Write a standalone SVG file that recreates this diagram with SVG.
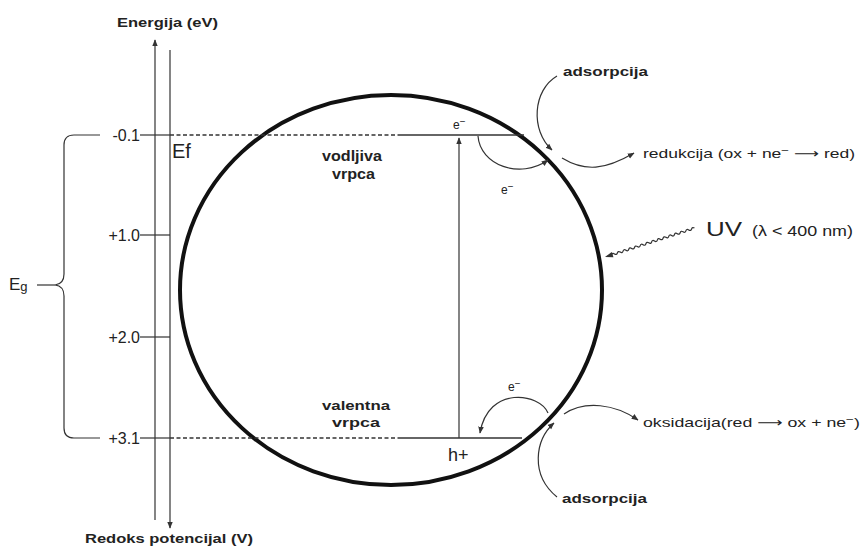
<svg xmlns="http://www.w3.org/2000/svg" width="861" height="547" viewBox="0 0 861 547">
<style>
text{font-family:"Liberation Sans",Arial,sans-serif;fill:#222}
.b{font-weight:bold}
.ln{stroke:#333;stroke-width:1.5;fill:none}
.th{stroke:#333;stroke-width:1.2;fill:none}
.dash{stroke:#333;stroke-width:1.3;stroke-dasharray:4 2.5;fill:none}
.ar{font-family:"DejaVu Sans",sans-serif}
</style>
<defs>
<marker id="ah" viewBox="0 0 10 10" refX="9" refY="5" markerWidth="7" markerHeight="7" orient="auto" markerUnits="userSpaceOnUse">
<path d="M0,1 L10,5 L0,9 Z" fill="#333"/>
</marker>
</defs>
<rect width="861" height="547" fill="#fff"/>

<g id="axes">
<line class="th" x1="155" y1="520" x2="155" y2="40" marker-end="url(#ah)"/>
<line class="th" x1="170" y1="50" x2="170" y2="528" marker-end="url(#ah)"/>
<text class="b" x="117" y="27" font-size="13" textLength="101" lengthAdjust="spacingAndGlyphs">Energija (eV)</text>
<text class="b" x="85" y="543" font-size="13" textLength="168" lengthAdjust="spacingAndGlyphs">Redoks potencijal (V)</text>
<line class="th" x1="140" y1="135" x2="170" y2="135"/>
<line class="th" x1="140" y1="235" x2="170" y2="235"/>
<line class="th" x1="140" y1="337" x2="170" y2="337"/>
<line class="th" x1="140" y1="438" x2="170" y2="438"/>
<text x="140" y="141" font-size="16" text-anchor="end">-0.1</text>
<text x="140" y="241" font-size="16" text-anchor="end">+1.0</text>
<text x="140" y="343" font-size="16" text-anchor="end">+2.0</text>
<text x="140" y="444" font-size="16" text-anchor="end">+3.1</text>
<text x="172" y="158" font-size="20">Ef</text>
</g>

<g id="eg-brace">
<path class="th" d="M100,135 H74 Q64,135 64,145 V274 Q64,284 55,285 Q64,286 64,296 V428 Q64,438 74,438 H100"/>
<line class="th" x1="37" y1="285" x2="55" y2="285"/>
<text x="9" y="290" font-size="17">E<tspan font-size="13" dy="1">g</tspan></text>
</g>

<g id="particle">
<ellipse cx="391" cy="290" rx="211" ry="195" fill="none" stroke="#111" stroke-width="4"/>
</g>

<g id="bands">
<line class="dash" x1="170" y1="135" x2="400" y2="135"/>
<line class="ln" x1="400" y1="135" x2="524" y2="135"/>
<line class="dash" x1="170" y1="438" x2="400" y2="438"/>
<line class="ln" x1="400" y1="438" x2="522" y2="438"/>
<text class="b" x="322" y="161" font-size="14" textLength="60" lengthAdjust="spacingAndGlyphs">vodljiva</text>
<text class="b" x="332" y="179" font-size="14" textLength="43" lengthAdjust="spacingAndGlyphs">vrpca</text>
<text class="b" x="322" y="410" font-size="13" textLength="68" lengthAdjust="spacingAndGlyphs">valentna</text>
<text class="b" x="332" y="427" font-size="13" textLength="48" lengthAdjust="spacingAndGlyphs">vrpca</text>
<text x="453" y="129" font-size="12">e<tspan dy="-4" font-size="10">−</tspan></text>
<text x="501" y="194" font-size="12">e<tspan dy="-4" font-size="10">−</tspan></text>
<text x="508" y="391" font-size="12">e<tspan dy="-4" font-size="10">−</tspan></text>
<text x="448" y="461" font-size="18">h+</text>
</g>

<g id="labels">
<text class="b" x="563" y="76" font-size="13" textLength="85" lengthAdjust="spacingAndGlyphs">adsorpcija</text>
<text x="643" y="158" font-size="13" textLength="212" lengthAdjust="spacingAndGlyphs">redukcija (ox + ne<tspan dy="-4" font-size="10">−</tspan><tspan dy="4"> </tspan><tspan class="ar">⟶</tspan> red)</text>
<text x="706" y="236" font-size="21" textLength="36" lengthAdjust="spacingAndGlyphs">UV</text>
<text x="752" y="236" font-size="14" textLength="101" lengthAdjust="spacingAndGlyphs">(λ &lt; 400 nm)</text>
<text x="643" y="427" font-size="13" textLength="217" lengthAdjust="spacingAndGlyphs">oksidacija(red <tspan class="ar">⟶</tspan> ox + ne<tspan dy="-4" font-size="10">−</tspan><tspan dy="4">)</tspan></text>
<text class="b" x="562" y="503" font-size="13" textLength="85" lengthAdjust="spacingAndGlyphs">adsorpcija</text>
</g>

<g id="connectors">
<line class="th" x1="459" y1="438" x2="459" y2="138" marker-end="url(#ah)"/>
<path class="th" d="M478,136 C480,165 520,180 548,160" marker-end="url(#ah)"/>
<path class="th" d="M557,76 C533,90 530,130 552,150" marker-end="url(#ah)"/>
<path class="th" d="M562,158 C585,172 605,170 634,153" marker-end="url(#ah)"/>
<path class="th" d="M548,413 C540,393 488,385 480,433" marker-end="url(#ah)"/>
<path class="th" d="M564,414 C585,400 615,404 638,420" marker-end="url(#ah)"/>
<path class="th" d="M557,497 C530,475 535,440 554,423" marker-end="url(#ah)"/>
<g transform="translate(605,257) rotate(-17.9)">
<path d="M0,0 L8,-2.8 L8,2.8 Z" fill="#333"/>
<path class="th" d="M7,0 q1.5,-2 3,0 t3,0 t3,0 t3,0 t3,0 t3,0 t3,0 t3,0 t3,0 t3,0 t3,0 t3,0 t3,0 t3,0 t3,0 t3,0 t3,0 t3,0 t3,0 t3,0 t3,0 t3,0 t3,0 t3,0 t3,0 t3,0 t3,0 t3,0 t3,0"/>
</g>
</g>
</svg>
